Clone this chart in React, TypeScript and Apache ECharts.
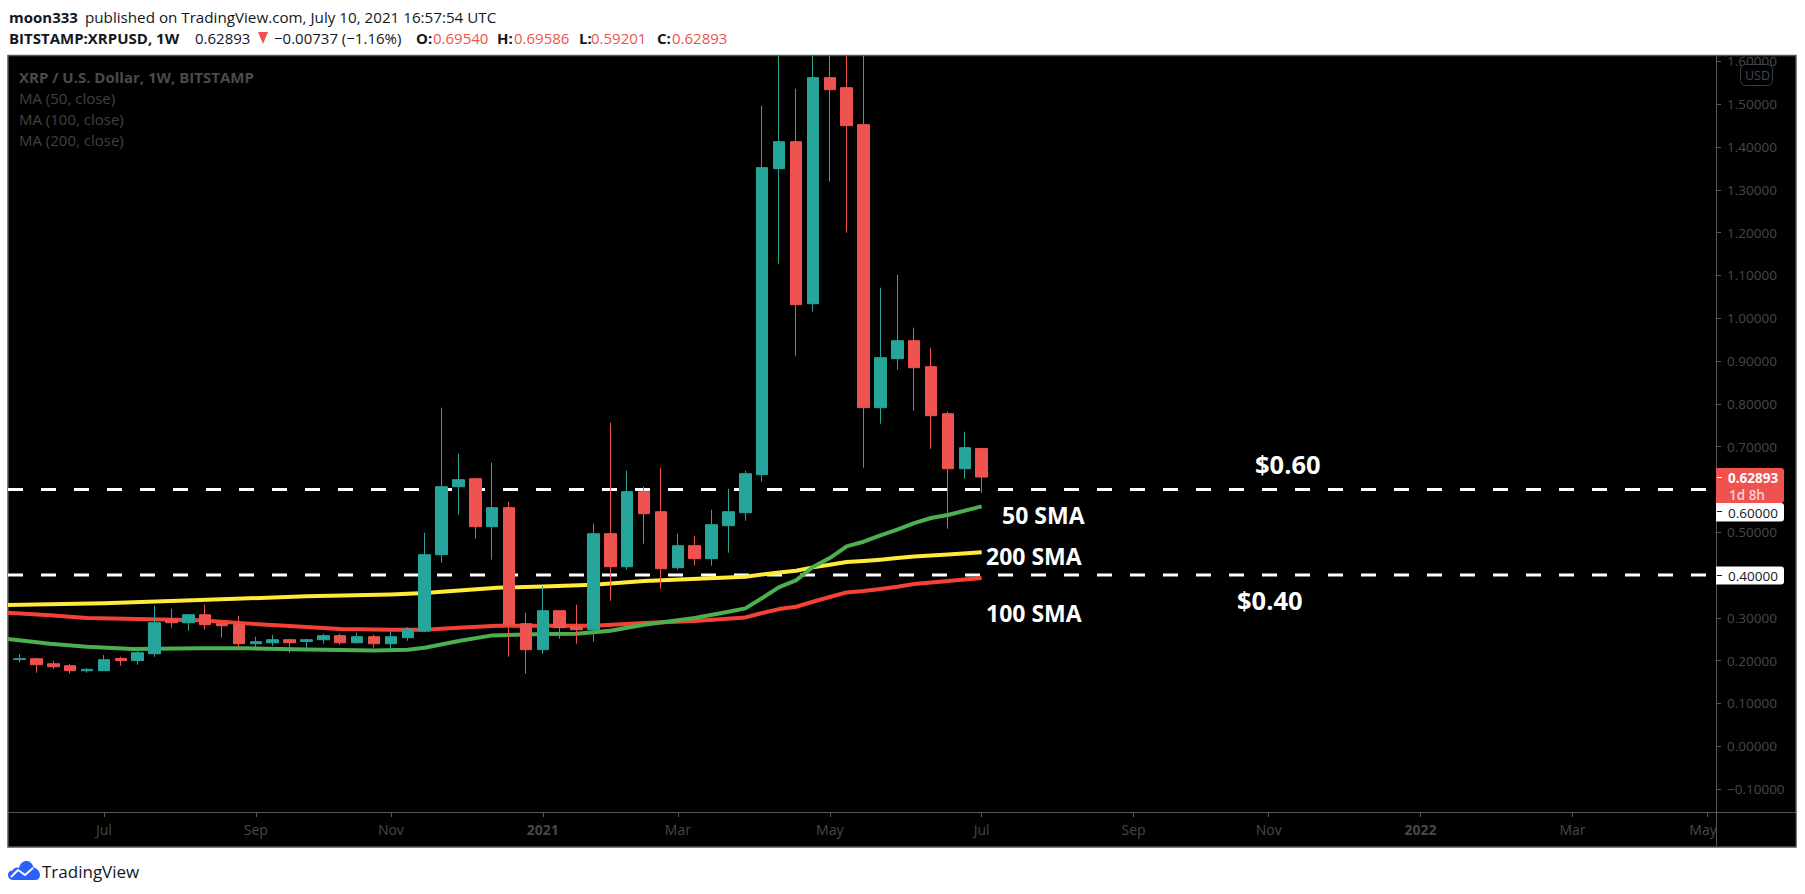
import React, { useEffect, useRef } from "react";
import * as echarts from "echarts";

// Weekly candles, index 0 = first visible week (late May 2020)
const opens = [0.2025,0.2044,0.1927,0.1881,0.1764,0.1764,0.2052,0.2000,0.2161,0.2955,0.2885,0.3072,0.2862,0.2839,0.2395,0.2418,0.2488,0.2449,0.2488,0.2582,0.2418,0.2558,0.2395,0.2535,0.2691,0.4475,0.6063,0.6250,0.5129,0.5573,0.2862,0.2255,0.3166,0.2792,0.2722,0.4965,0.4194,0.5946,0.5479,0.4171,0.4685,0.4381,0.5152,0.5456,0.6344,1.3494,1.4124,1.0339,1.5620,1.5386,1.4522,0.7909,0.9054,0.9474,0.8867,0.7768,0.6483,0.6954];
const closes = [0.2045,0.1904,0.1857,0.1764,0.1795,0.2021,0.2005,0.2184,0.2885,0.2885,0.3072,0.2839,0.2815,0.2395,0.2442,0.2488,0.2418,0.2488,0.2582,0.2418,0.2558,0.2395,0.2558,0.2738,0.4475,0.6063,0.6227,0.5129,0.5573,0.2839,0.2255,0.3166,0.2769,0.2722,0.4965,0.4194,0.5946,0.5432,0.4147,0.4685,0.4381,0.5175,0.5479,0.6367,1.3517,1.4124,1.0316,1.5620,1.5339,1.4498,0.7909,0.9077,0.9474,0.8843,0.7722,0.6483,0.6974,0.62893];
const lows = [0.1959,0.1717,0.1811,0.1694,0.1717,0.1764,0.1881,0.1904,0.2091,0.2769,0.2698,0.2722,0.2535,0.2301,0.2317,0.2348,0.2184,0.2286,0.2395,0.2371,0.2395,0.2301,0.2278,0.2465,0.2675,0.4288,0.5409,0.4848,0.4358,0.2091,0.1694,0.2161,0.2512,0.2395,0.2442,0.3400,0.4124,0.4732,0.3680,0.4124,0.4218,0.4218,0.4521,0.5269,0.6180,1.1274,0.9124,1.0153,1.3190,1.1998,0.6507,0.7535,0.8796,0.7839,0.6951,0.5082,0.6250,0.59201];
const highs = [0.2153,0.2068,0.1998,0.1927,0.1826,0.2130,0.2091,0.2270,0.3283,0.3212,0.3096,0.3306,0.2932,0.3049,0.2558,0.2605,0.2512,0.2512,0.2628,0.2628,0.2652,0.2605,0.2675,0.2784,0.4989,0.7909,0.6834,0.6250,0.6624,0.5713,0.3119,0.3750,0.3166,0.3306,0.5199,0.7559,0.6437,0.6063,0.6507,0.4965,0.4918,0.5526,0.6017,0.6437,1.4966,1.6126,1.5363,1.6126,1.6126,1.6126,1.6126,1.0713,1.1017,0.9779,0.9311,0.7815,0.7348,0.69586];

const sma200X = [-0.68,5,10.7,17,22,24,28.3,31,34,37,43,45,46,47,48,49,50,51,52,53,55,57];
const sma200Y = [0.3299,0.3338,0.3416,0.3501,0.3547,0.3579,0.3703,0.3734,0.3774,0.3859,0.396,0.4061,0.41,0.4178,0.424,0.4303,0.4326,0.4357,0.4396,0.4435,0.4482,0.4529];
const sma100X = [-0.68,1.8,4,7.7,10.7,13.4,16,19,22,24,26,28.3,31,34,37,40,43,44,45,46,47,48,49,50,51,52,53,55,57];
const sma100Y = [0.312,0.3057,0.2995,0.2964,0.2941,0.287,0.2807,0.2737,0.2722,0.2722,0.2769,0.2815,0.2812,0.2816,0.2878,0.2925,0.301,0.3111,0.3204,0.3259,0.3376,0.3485,0.3594,0.3625,0.3672,0.3726,0.3789,0.3859,0.3929];
const sma50X = [-0.68,1.8,4,6.7,10.7,13.4,17,21,23,24,26.1,28,31,33,35,37,40,42,43,44,45,46,47,48,49,50,51,52,53,54,55,57];
const sma50Y = [0.2504,0.2395,0.2325,0.2271,0.2286,0.2286,0.2262,0.2239,0.2255,0.2301,0.2465,0.2589,0.262,0.2625,0.2699,0.2839,0.2995,0.3143,0.322,0.3461,0.3718,0.3874,0.4186,0.4396,0.4669,0.4778,0.4926,0.5058,0.5214,0.5331,0.5401,0.5603];

const levels = [0.6, 0.4];
const priceTicks = [1.6,1.5,1.4,1.3,1.2,1.1,1.0,0.9,0.8,0.7,0.5,0.3,0.2,0.1,0,-0.1];
const allPriceTicks = [1.6,1.5,1.4,1.3,1.2,1.1,1.0,0.9,0.8,0.7,0.5,0.4,0.3,0.2,0.1,0,-0.1];
const timeTicks = [5,14,22,31,39,48,57,66,74,83,92,100];
const timeLabels = ["Jul","Sep","Nov","2021","Mar","May","Jul","Sep","Nov","2022","Mar","May"];

const FONT = "'Open Sans', sans-serif";
const INK = "#131722";
const RED = "#ef5350";
const TEAL = "#26a69a";
const GREY = "#484848";
const FRAME = "#555555";
const X_MIN = -0.681;
const X_MAX = 100.5;

const t = (text: string, x: number, y: number, fill: string, size: number, weight: any = 400, extra: any = {}) => ({
  type: "text", x, y, z: 50,
  style: { text, fill, font: `${weight} ${size}px ${FONT}`, textVerticalAlign: "middle", textBaseline: "middle", ...extra },
});

const CLOUD = "M5 19 C1.5 19 0 16 0 14 C0 11 2 9.5 4.5 9.5 C6 6.5 9 6 11 7 C12 2.5 15 0 18.5 0 C22 0 24.5 2.5 25.5 6.5 C29 7 32 10.5 32 14 C32 17 30 19 27 19 Z";
echarts.graphic.registerShape("tvCloud", echarts.graphic.extendPath(CLOUD, {}) as any);

export default function App() {
  const ref = useRef<HTMLDivElement>(null);
  useEffect(() => {
    document.body.style.margin = "0";
    document.body.style.background = "#fff";
    const chart = echarts.init(ref.current!, null, { renderer: "svg" });
    const pairs = (xs: number[], ys: number[]) => xs.map((x, i) => [x, ys[i]]);
    const ma = (name: string, xs: number[], ys: number[], color: string) => ({
      name, type: "line", data: pairs(xs, ys), showSymbol: false, symbol: "none", smooth: false,
      lineStyle: { color, width: 4, join: "round" }, z: 3, silent: true,
    });
    chart.setOption({
      animation: false,
      backgroundColor: "#ffffff",
      tooltip: { show: false },
      grid: { left: 8, top: 56, width: 1708, height: 756, show: false },
      xAxis: {
        type: "value", min: X_MIN, max: X_MAX,
        splitLine: { show: false },
        axisLine: { show: false, onZero: false },
        axisTick: { show: true, length: 5, customValues: timeTicks, lineStyle: { color: FRAME } },
        axisLabel: {
          show: true, customValues: timeTicks, margin: 10, fontFamily: FONT, fontSize: 14, color: GREY,
          showMinLabel: true, showMaxLabel: true, hideOverlap: false,
          formatter: (v: number) => {
            const l = timeLabels[timeTicks.indexOf(v)] ?? "";
            if (v === 100) return `{m|${l}}`;
            return /^\d+$/.test(l) ? `{y|${l}}` : l;
          },
          rich: {
            y: { fontFamily: FONT, fontSize: 14, fontWeight: 700, color: GREY },
            m: { fontFamily: FONT, fontSize: 14, color: GREY, padding: [0, 9, 0, 0] },
          },
        },
      },
      yAxis: {
        type: "value", position: "right", min: -0.1537, max: 1.6126, scale: true,
        splitLine: { show: false },
        axisLine: { show: true, onZero: false, lineStyle: { color: FRAME, width: 1 } },
        axisTick: { show: true, length: 5, customValues: allPriceTicks, lineStyle: { color: FRAME } },
        axisLabel: {
          show: true, customValues: priceTicks, margin: 11, fontFamily: FONT, fontSize: 13.5, color: GREY,
          align: "left", formatter: (v: number) => v.toFixed(5).replace("-", "\u2212"),
        },
      },
      series: [
        ...levels.map((lv, i) => ({
          name: `level${i}`, type: "line", data: [[X_MIN, lv], [X_MAX, lv]], showSymbol: false, symbol: "none",
          lineStyle: { color: "#ffffff", width: 3, type: [15, 18], cap: "butt" }, z: 2, silent: true,
        })),
        ma("MA 200", sma200X, sma200Y, "#ffeb3b"),
        ma("MA 100", sma100X, sma100Y, "#f44336"),
        ma("MA 50", sma50X, sma50Y, "#4caf50"),
        {
          name: "XRPUSD", type: "candlestick", barWidth: 12, z: 4, silent: true, clip: true,
          encode: { x: 0, y: [1, 2, 3, 4] },
          data: opens.map((o, i) => [i, o, closes[i], lows[i], highs[i]]),
          itemStyle: { color: TEAL, color0: RED, borderColor: TEAL, borderColor0: RED, borderWidth: 1 },
        },
      ],
      graphic: {
        elements: [
          // chart frame
          { type: "rect", z: -1, shape: { x: 8, y: 55.5, width: 1788, height: 791.5 }, style: { fill: "#000", stroke: FRAME, lineWidth: 1.5 } },
          // mask for axis labels running under the price scale
          { type: "rect", z: 20, shape: { x: 1716.5, y: 813, width: 79, height: 33 }, style: { fill: "#000" } },
          { type: "line", z: 21, shape: { x1: 8, y1: 812.5, x2: 1796, y2: 812.5 }, style: { stroke: FRAME, lineWidth: 1 } },
          { type: "line", z: 21, shape: { x1: 1716.5, y1: 812, x2: 1716.5, y2: 847 }, style: { stroke: FRAME, lineWidth: 1 } },

          // header
          t("moon333", 9, 17, INK, 15, 700),
          t("published on TradingView.com, July 10, 2021 16:57:54 UTC", 85, 17, INK, 15.2),
          t("BITSTAMP:XRPUSD, 1W", 9, 38, INK, 15, 700),
          t("0.62893", 195, 38, INK, 15),
          { type: "polygon", z: 50, shape: { points: [[258, 32], [268, 32], [263, 44]] }, style: { fill: RED } },
          t("\u22120.00737 (\u22121.16%)", 274, 38, INK, 15),
          t("O:", 416, 38, INK, 15, 700), t("0.69540", 433, 38, RED, 15),
          t("H:", 497, 38, INK, 15, 700), t("0.69586", 514, 38, RED, 15),
          t("L:", 579, 38, INK, 15, 700), t("0.59201", 591, 38, RED, 15),
          t("C:", 657, 38, INK, 15, 700), t("0.62893", 672, 38, RED, 15),

          // legend
          t("XRP / U.S. Dollar, 1W, BITSTAMP", 19, 77, "#4a4a4a", 15, 700),
          t("MA (50, close)", 19, 98, "#414141", 15),
          t("MA (100, close)", 19, 119, "#414141", 15),
          t("MA (200, close)", 19, 140, "#414141", 15),

          // annotations
          t("$0.60", 1255, 464, "#fff", 25.5, 700),
          t("$0.40", 1237, 600, "#fff", 25.5, 700),
          t("50 SMA", 1002, 515, "#fff", 23, 700),
          t("200 SMA", 986, 556, "#fff", 23, 700),
          t("100 SMA", 986, 613, "#fff", 23, 700),

          // USD badge
          { type: "rect", z: 30, shape: { x: 1740.5, y: 64.5, width: 32, height: 21, r: 5 }, style: { fill: "#000", stroke: "#3b3f4c", lineWidth: 1 } },
          t("USD", 1745, 75, GREY, 12.5),

          // price tags
          { type: "rect", z: 40, shape: { x: 1716, y: 468, width: 68, height: 35, r: [0, 3, 3, 0] }, style: { fill: RED } },
          { type: "line", z: 41, shape: { x1: 1717, y1: 477.5, x2: 1722, y2: 477.5 }, style: { stroke: "#fff", lineWidth: 1 } },
          t("0.62893", 1728, 478, "#fff", 13.5, 700),
          t("1d 8h", 1729, 494.5, "#fbd0cf", 13.5, 600),
          { type: "rect", z: 40, shape: { x: 1716, y: 503, width: 68, height: 18.5, r: [0, 3, 3, 0] }, style: { fill: "#fff" } },
          { type: "line", z: 41, shape: { x1: 1717, y1: 511.5, x2: 1722, y2: 511.5 }, style: { stroke: "#131722", lineWidth: 1 } },
          t("0.60000", 1728, 512.5, INK, 13.5),
          { type: "rect", z: 40, shape: { x: 1716, y: 566.5, width: 68, height: 18, r: [0, 3, 3, 0] }, style: { fill: "#fff" } },
          { type: "line", z: 41, shape: { x1: 1717, y1: 575.5, x2: 1722, y2: 575.5 }, style: { stroke: "#131722", lineWidth: 1 } },
          t("0.40000", 1728, 576, INK, 13.5),

          // logo
          { type: "tvCloud", z: 50, x: 8, y: 861, style: { fill: "#2962ff" } },
          { type: "polyline", z: 51, shape: { points: [[11, 877], [18, 870], [25, 875], [33, 868]] }, style: { stroke: "#fff", lineWidth: 2, fill: "none" } },
          t("TradingView", 42, 871, INK, 17),
        ],
      },
    } as any);
    return () => chart.dispose();
  }, []);
  return <div ref={ref} style={{ width: 1805, height: 894 }} />;
}
